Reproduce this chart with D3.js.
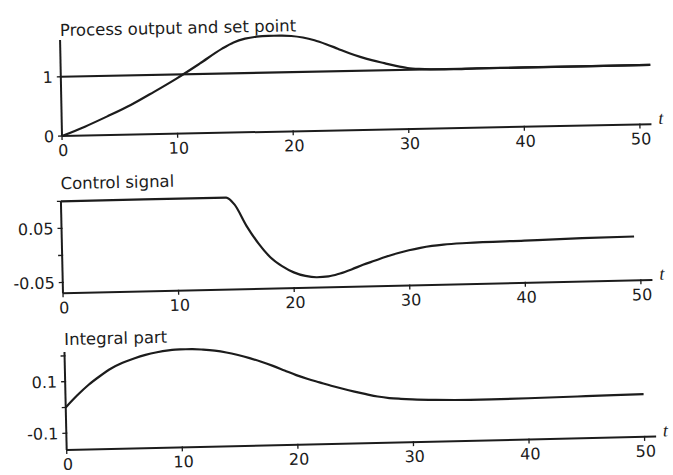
<!DOCTYPE html>
<html>
<head>
<meta charset="utf-8">
<script src="https://cdn.jsdelivr.net/npm/d3@7"></script>
<style>
  html, body { margin: 0; padding: 0; background: #fff; }
  svg { display: block; }
  .lbl { font-family: "DejaVu Sans", sans-serif; fill: #1c1c1c; }
  .tvar { font-family: "Liberation Serif", serif; font-style: italic; fill: #1c1c1c; }
</style>
</head>
<body>
<svg id="chart" width="673" height="475"></svg>
<script>
// ---------- data ----------
const tTicks = [0, 10, 20, 30, 40, 50];

// Panel 1: process output and set point
const outT = [0, 2, 4, 6, 8, 10, 12, 14, 15, 16, 17, 18, 19, 20, 21, 22, 23, 24, 25, 26, 27, 28, 29, 30, 31, 32, 34, 36, 40, 45, 51];
const outY = [0, 0.15, 0.32, 0.5, 0.71, 0.93, 1.17, 1.42, 1.52, 1.58, 1.61, 1.62, 1.62, 1.61, 1.58, 1.53, 1.46, 1.38, 1.30, 1.23, 1.17, 1.12, 1.07, 1.03, 1.01, 1.0, 0.995, 1.0, 1.0, 1.0, 1.0];
const spT = [0, 51];
const spY = [1, 1];

// Panel 2: control signal
const ctrlT = [0, 14.3, 15, 16, 17, 18, 19, 20, 21, 22, 23, 24, 25, 26, 27, 28, 29, 30, 31, 32, 33, 35, 40, 45, 49.5];
const ctrlY = [0.1, 0.1, 0.087, 0.047, 0.014, -0.012, -0.029, -0.041, -0.048, -0.051, -0.050, -0.045, -0.038, -0.030, -0.023, -0.016, -0.010, -0.005, -0.001, 0.002, 0.004, 0.006, 0.008, 0.010, 0.011];

// Panel 3: integral part
const intT = [0, 1, 2, 3, 4, 5, 6, 7, 8, 9, 10, 11, 12, 13, 14, 15, 16, 17, 18, 19, 20, 21, 22, 23, 24, 25, 26, 27, 28, 29, 30, 32, 35, 40, 45, 50];
const intY = [0, 0.045, 0.085, 0.118, 0.147, 0.168, 0.184, 0.197, 0.206, 0.212, 0.215, 0.215, 0.212, 0.207, 0.199, 0.188, 0.175, 0.160, 0.143, 0.124, 0.105, 0.089, 0.075, 0.061, 0.048, 0.036, 0.025, 0.015, 0.008, 0.004, 0.001, -0.003, -0.006, -0.005, -0.002, 0.001];

const titles = ["Process output and set point", "Control signal", "Integral part"];
const yTicks1 = [0, 1];
const yLabels1 = ["0", "1"];
const yTicks2 = [-0.05, 0, 0.05, 0.1];
const yLabels2 = ["-0.05", "", "0.05", ""];
const yTicks3 = [-0.1, 0, 0.1, 0.2];
const yLabels3 = ["-0.1", "", "0.1", ""];

// ---------- layout ----------
const ink = "#1c1c1c";
const svg = d3.select("#chart");

const panels = [
  { ox: 62, oy: 136, angle: -1.15, yDom: [0, 1.62], h: 96, titleY: -100,
    ticks: yTicks1, labels: yLabels1,
    series: [{ t: spT, y: spY }, { t: outT, y: outY }], title: titles[0] },
  { ox: 63, oy: 293.3, angle: -1.3, yDom: [-0.07, 0.1], h: 92, titleY: -104,
    ticks: yTicks2, labels: yLabels2,
    series: [{ t: ctrlT, y: ctrlY }], title: titles[1] },
  { ox: 66.7, oy: 450, angle: -1.3, yDom: [-0.165, 0.215], h: 98, titleY: -105,
    ticks: yTicks3, labels: yLabels3,
    series: [{ t: intT, y: intY }], title: titles[2] }
];

panels.forEach(p => {
  const g = svg.append("g")
    .attr("transform", `translate(${p.ox},${p.oy}) rotate(${p.angle})`);

  const x = d3.scaleLinear().domain([0, 50]).range([0, 578]);
  const y = d3.scaleLinear().domain(p.yDom).range([0, -p.h]);

  // x axis line
  g.append("line")
    .attr("x1", x(0)).attr("x2", x(51))
    .attr("y1", 0).attr("y2", 0)
    .attr("stroke", ink).attr("stroke-width", 2);
  // x ticks
  g.selectAll(".xt").data(tTicks).enter().append("line")
    .attr("x1", d => x(d)).attr("x2", d => x(d))
    .attr("y1", -1).attr("y2", 4)
    .attr("stroke", ink).attr("stroke-width", 1.3);
  g.selectAll(".xl").data(tTicks).enter().append("text")
    .attr("class", "lbl")
    .attr("x", d => x(d) + 1).attr("y", 20)
    .attr("text-anchor", "middle")
    .attr("font-size", 16)
    .text(d => d);
  g.append("text").attr("class", "tvar")
    .attr("x", x(51) + 7).attr("y", 0)
    .attr("font-size", 18)
    .text("t");

  // y axis line
  g.append("line")
    .attr("x1", 0).attr("x2", 0)
    .attr("y1", 0).attr("y2", y(p.yDom[1]))
    .attr("stroke", ink).attr("stroke-width", 2);
  g.selectAll(".yt").data(p.ticks).enter().append("line")
    .attr("x1", -4).attr("x2", 1)
    .attr("y1", d => y(d)).attr("y2", d => y(d))
    .attr("stroke", ink).attr("stroke-width", 1.3);
  g.selectAll(".yl").data(p.ticks).enter().append("text")
    .attr("class", "lbl")
    .attr("x", -8).attr("y", d => y(d))
    .attr("dy", "0.36em")
    .attr("text-anchor", "end")
    .attr("font-size", 16)
    .text((d, i) => p.labels[i]);

  // title
  g.append("text").attr("class", "lbl")
    .attr("x", 0).attr("y", p.titleY)
    .attr("font-size", 16.5)
    .text(p.title);

  // series
  const line = d3.line()
    .x(d => x(d[0])).y(d => y(d[1]))
    .curve(d3.curveMonotoneX);
  p.series.forEach(s => {
    g.append("path")
      .datum(s.t.map((t, i) => [t, s.y[i]]))
      .attr("d", line)
      .attr("fill", "none")
      .attr("stroke", ink)
      .attr("stroke-width", 2.2);
  });
});
</script>
</body>
</html>
